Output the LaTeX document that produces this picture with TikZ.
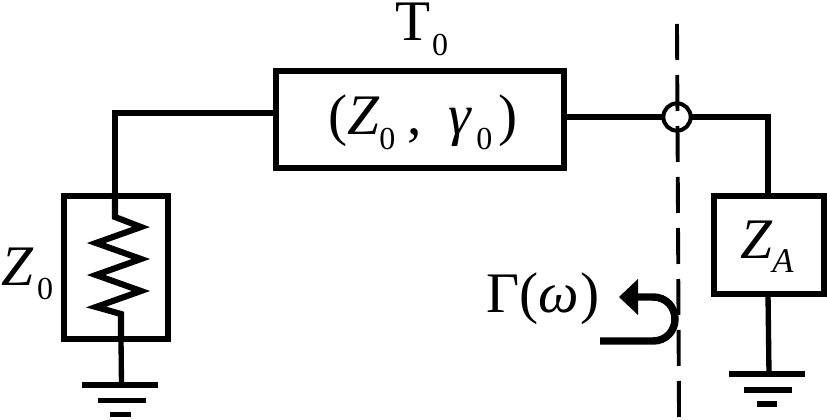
\documentclass[tikz,border=0pt]{standalone}
\usepackage{fontspec}
\setmainfont{Liberation Serif}
\usetikzlibrary{calc}
\newcommand\bigsz{\fontsize{43}{50}\selectfont}
\newcommand\subsz{\fontsize{24}{28}\selectfont}
\newcommand\lowsub[1]{\raisebox{-11pt}{\subsz #1}}
\tikzset{
  x=0.75pt,y=-0.75pt,
  wire/.style={line width=4pt,line join=miter},
  zigzag/.style={line width=4.6pt,line join=miter},
  box/.style={draw,line width=4.1pt,fill=none,inner sep=0pt,outer sep=0pt},
  label/.style={anchor=base west,inner sep=0pt,outer sep=0pt,font=\bigsz},
  gbar/.style={line width=4.4pt},
  cut/.style={line width=2.9pt,dash pattern=on 27pt off 11.25pt},
  port/.style={circle,draw,line width=3pt,fill=white,minimum size=20.5pt,inner sep=0pt,outer sep=0pt},
}
\begin{document}
\begin{tikzpicture}
\useasboundingbox (0,0) rectangle (827,420);
% boxes
\node[box,minimum width=216pt,minimum height=72.75pt] (line) at (420,119.5) {};
\node[box,minimum width=78pt,minimum height=107.25pt] (src) at (116,267.5) {};
\node[box,minimum width=82.5pt,minimum height=73.5pt] (load) at (769,245) {};
% anchor points
\coordinate (lineL) at (line.west |- 0,113);
\coordinate (lineR) at (line.east |- 0,117);
\coordinate (srcT) at (115,196);
\coordinate (srcB) at (121,339);
\coordinate (corner1) at (115,113);
\coordinate (corner2) at (768,117);
\coordinate (loadT) at (768,196);
\coordinate (loadB) at (768,294);
\coordinate (g1) at (121.5,385);
\coordinate (g2) at (769,374);
\node[port] (p) at (677,117) {};
% wires
\draw[wire] (lineL) -- (corner1) -- (srcT);
\draw[zigzag] (srcT) -- (115,217) -- (141,227) -- (96,243) -- (141,259) -- (96,275) -- (141,291) -- (96,307) -- (121,314) -- (srcB);
\draw[wire] (srcB) -- (g1);
\draw[wire] (lineR) -- (p.west);
\draw[wire] (p.east) -- (corner2) -- (loadT);
\draw[wire] (loadB) -- (g2);
% grounds
\draw[gbar] (82,385) -- (158,385);
\draw[gbar] (98,400.5) -- (146,400.5);
\draw[gbar] (110,414.5) -- (131,414.5);
\draw[gbar] (729,374) -- (805,374);
\draw[gbar] (744,390) -- (792,390);
\draw[gbar] (757,404) -- (777,404);
% cut line
\coordinate (cutT) at (677,24);
\coordinate (cutB) at (679,418);
\draw[cut] (cutT) -- (cutB);
% reflection arrow
\coordinate (rs) at (600,341);
\coordinate (rt) at (637,297);
\draw[line width=5.6pt] (rs) -- (653,341) .. controls (666,341) and (675,331) .. (675,319) .. controls (675,307) and (666,297) .. (653,297) -- (rt);
\fill (619,297) -- (638,279) -- (638,315) -- cycle;
% labels
\node[label] (t0) at (395,41) {T\hspace{1.5pt}\lowsub{0}};
\node[label] (zg) at (328,135) {(\textit{Z}\lowsub{0}\hspace{9pt},\hspace{20pt}\textit{γ}\hspace{3pt}\lowsub{0}\hspace{5pt})};
\node[label] (z0) at (2,285) {\textit{Z}\hspace{2pt}\lowsub{0}};
\node[label] (za) at (740,258) {\textit{Z}\raisebox{-11pt}{\fontsize{26}{30}\selectfont\textit{A}}};
\node[label] (gam) at (486,312) {Γ(\textit{ω}\hspace{1.5pt})};
\end{tikzpicture}
\end{document}
